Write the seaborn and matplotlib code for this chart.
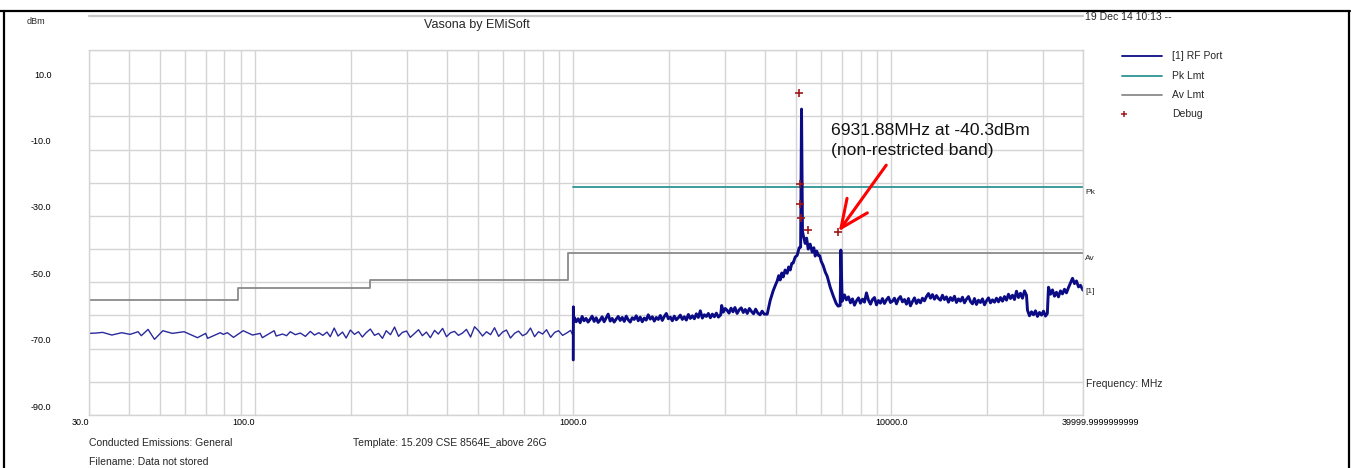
import matplotlib
matplotlib.use("Agg")
import matplotlib.pyplot as plt
import matplotlib.transforms as mtransforms
from matplotlib.lines import Line2D
from matplotlib.ticker import FixedLocator
import pandas as pd
import seaborn as sns

# ---------------- values (MHz / dBm) ----------------
# [1] RF Port below 1 GHz (sparse sweep, thin line)
low_freq = [30, 31.6, 33.1, 35.4, 38.0, 40.4, 42.8, 43.8, 46.0, 48.2,
            51.2, 54.8, 59.7, 65.8, 69.8, 70.8, 77.6, 79.3, 81.7, 85.4,
            91.6, 98.0, 103.6, 105.2, 114.6, 116.3, 121.8, 125.4, 128.8, 133.6,
            138.5, 143.7, 148.9, 153.5, 158.4, 163, 168, 172, 177, 182,
            188, 193, 199, 205, 211, 217, 223, 230, 237, 244,
            251, 258, 266, 274, 282, 290, 299, 307, 316, 326,
            335, 345, 355, 366, 376, 388, 399, 411, 423, 435,
            448, 461, 475, 489, 503, 518, 533, 549, 565, 582,
            599, 616, 634, 653, 672, 692, 712, 733, 755, 777,
            800, 823, 848, 873, 898, 925, 952, 980, 995]
low_level = [-65.4, -65.3, -65.1, -65.9, -65.2, -65.7, -64.9, -66.1, -64.2, -67.2,
             -64.6, -65.4, -64.9, -66.7, -65.4, -66.9, -65.2, -65.7, -65.2, -66.6,
             -64.6, -65.9, -65.4, -66.7, -64.6, -66.2, -65.6, -66.1, -64.9, -65.8,
             -65.3, -66.3, -64.8, -65.9, -65.2, -66.0, -65.0, -66.4, -63.8, -66.2,
             -65.0, -66.8, -64.4, -65.7, -64.9, -66.5, -65.2, -64.1, -66.0, -65.4,
             -66.9, -64.6, -65.8, -63.5, -66.3, -65.1, -64.7, -66.6, -65.5, -64.3,
             -66.1, -65.0, -66.7, -64.5, -65.6, -63.9, -66.4, -65.2, -64.8, -66.0,
             -65.3, -64.2, -66.5, -63.4, -64.6, -66.2, -64.9, -65.8, -63.7, -66.3,
             -65.0, -64.4, -66.8, -65.4, -64.7, -66.1, -65.5, -63.8, -66.4, -64.9,
             -65.6, -64.3, -66.6, -65.1, -64.6, -66.0, -65.3, -64.5, -65.9]

# step at 1 GHz
step_freq = [999, 1000, 1001]
step_level = [-73.4, -57.4, -61.5]

# 1 GHz - 2.9 GHz
band1_freq = [1005, 1020, 1035, 1050, 1065, 1080, 1096, 1112, 1128, 1145,
              1162, 1179, 1196, 1213, 1231, 1249, 1267, 1286, 1305, 1324,
              1343, 1363, 1383, 1403, 1424, 1445, 1466, 1487, 1509, 1531,
              1553, 1576, 1599, 1622, 1646, 1670, 1694, 1719, 1744, 1770,
              1796, 1822, 1849, 1876, 1903, 1931, 1959, 1988, 2017, 2046,
              2076, 2106, 2137, 2168, 2200, 2232, 2265, 2298, 2331, 2365,
              2400, 2435, 2470, 2506, 2543, 2580, 2618, 2656, 2695, 2734,
              2774, 2815, 2856, 2905]
band1_level = [-60.5, -61.9, -61.0, -62.2, -60.3, -61.6, -60.9, -62.0, -61.2, -60.2,
               -61.8, -60.7, -62.1, -61.4, -60.4, -61.9, -60.8, -59.6, -61.7, -60.9,
               -62.0, -61.1, -60.3, -61.5, -60.6, -61.8, -60.2, -61.3, -62.0, -60.7,
               -61.2, -60.1, -61.6, -60.5, -61.9, -60.8, -61.4, -59.8, -61.1, -60.4,
               -61.7, -60.6, -61.2, -60.0, -61.5, -60.3, -59.4, -61.0, -60.5, -61.6,
               -60.2, -61.3, -60.7, -59.9, -61.2, -60.4, -61.4, -59.7, -60.9, -60.1,
               -61.0, -59.5, -60.6, -58.6, -60.8, -59.8, -60.3, -59.4, -60.7, -59.6,
               -60.4, -59.3, -60.5, -59.8]

# 2.9 GHz - 4 GHz
band2_freq = [2925, 2960, 3000, 3040, 3085, 3130, 3175, 3220, 3270, 3320, 3370,
              3420, 3470, 3520, 3575, 3630, 3685, 3740, 3800, 3860, 3920, 3980]
band2_level = [-57.0, -59.0, -57.9, -58.4, -59.3, -57.8, -58.9, -57.6, -59.4, -58.3, -57.7,
               -59.1, -58.2, -59.4, -57.9, -58.8, -59.5, -58.1, -59.3, -59.8, -58.7, -59.6]

# 4 GHz - 7 GHz (carrier and 6931.88 MHz spur)
band3_freq = [4067, 4155, 4245, 4310, 4372, 4420, 4467, 4520, 4566, 4630,
              4700, 4750, 4803, 4860, 4908, 4980, 5052, 5126, 5180, 5214,
              5250, 5278, 5354, 5410, 5472, 5550, 5633, 5700, 5757, 5820,
              5884, 5950, 6013, 6101, 6190, 6280, 6417, 6559, 6702, 6798,
              6897, 6932, 6998]
band3_level = [-59.6, -55.5, -52.6, -51.0, -49.6, -48.0, -49.3, -47.2, -48.4, -46.3,
               -47.3, -45.4, -46.3, -44.3, -44.2, -42.4, -41.9, -39.6, -39.4, 2.2,
               -34.6, -35.8, -38.3, -36.7, -40.0, -38.5, -40.9, -39.6, -42.1, -40.6,
               -41.9, -42.0, -43.7, -45.0, -46.9, -48.2, -51.5, -54.1, -56.4, -57.2,
               -57.0, -40.3, -55.7]

# 7 GHz - 40 GHz
band4_freq = [7114, 7218, 7323, 7430, 7539, 7649, 7760, 7873, 7988, 8105,
              8223, 8343, 8465, 8589, 8714, 8841, 8970, 9101, 9232, 9367,
              9503, 9642, 9783, 9926, 10070, 10217, 10366, 10517, 10670, 10826,
              10984, 11144, 11307, 11472, 11640, 11810, 11982, 12157, 12333, 12514,
              12696, 12881, 13069, 13260, 13453, 13649, 13849, 14051, 14254, 14462,
              14673, 14887, 15104, 15325, 15548, 15775, 16005, 16239, 16476, 16716,
              16960, 17208, 17459, 17714, 17972, 18234, 18500, 18770, 19043, 19321,
              19603, 19889, 20179, 20474, 20772, 21075, 21383, 21695, 22010, 22331,
              22657, 22988, 23323, 23663, 24009, 24359, 24714, 25075, 25439, 25811,
              26187, 26570, 26760, 27150, 27550, 27950, 28360, 28770, 29190, 29620,
              30050, 30490, 30900, 31157, 31610, 32070, 32540, 33010, 33490, 33980,
              34480, 34980, 35490, 36010, 36540, 37070, 37610, 38160, 38720, 39280,
              40000]
band4_level = [-53.8, -55.3, -54.4, -56.2, -55.0, -56.9, -55.6, -54.7, -56.3, -55.1,
               -56.0, -53.2, -55.4, -56.6, -55.2, -54.6, -56.8, -55.5, -56.3, -54.9,
               -56.4, -55.3, -54.5, -56.1, -55.7, -54.8, -56.5, -55.0, -54.3, -55.9,
               -55.2, -56.6, -54.9, -57.1, -55.8, -54.7, -56.4, -55.3, -56.2, -54.8,
               -55.6, -54.3, -53.4, -54.8, -53.7, -55.1, -54.0, -54.9, -55.4, -53.9,
               -55.2, -54.4, -56.0, -54.6, -55.5, -54.2, -56.1, -55.0, -55.7, -54.5,
               -56.2, -55.1, -54.3, -55.8, -56.5, -54.9, -56.7, -55.4, -56.1, -55.0,
               -56.8, -55.6, -54.7, -56.2, -55.3, -56.0, -54.8, -55.9, -54.6, -55.7,
               -54.3, -55.4, -53.6, -54.9, -53.9, -55.2, -52.7, -54.6, -53.3, -54.8,
               -52.6, -53.9, -58.4, -60.1, -58.9, -59.8, -58.6, -60.3, -59.1, -59.9,
               -58.7, -60.2, -59.4, -51.5, -53.6, -52.3, -54.2, -53.0, -54.4, -52.6,
               -53.5, -52.1, -53.2, -51.6, -50.2, -48.8, -50.4, -49.6, -51.4, -50.9,
               -52.4]

# limit lines
pk_freq = [1000, 40000]
pk_level = [-21.2, -21.2]
av_freq = [30, 88, 230, 960, 40000]
av_level = [-55.2, -51.7, -49.2, -41.2, -41.2]

# debug markers
debug_freq = [5115, 5150, 5150, 5190, 5472, 6813]
debug_level = [7.1, -20.4, -26.5, -30.5, -34.2, -34.9]

# annotation
note_text = "6931.88MHz at -40.3dBm\n(non-restricted band)"
note_pos = (6462, -7.2)
arrow_tail = (9627, -14.7)
arrow_head = (6830, -34.6)

x_ticks = [30, 100, 1000, 10000, 40000]
x_labels = ["30.0", "100.0", "1000.0", "10000.0", "39999.9999999999"]
x_grid = [40, 50, 60, 70, 80, 90, 200, 300, 400, 500, 600, 700, 800, 900,
          2000, 3000, 4000, 5000, 6000, 7000, 8000, 9000, 20000, 30000]
y_labels = {10: "10.0", -10: "-10.0", -30: "-30.0", -50: "-50.0", -70: "-70.0", -90: "-90.0"}

# ---------------- drawing ----------------
W, H = 1354, 468
sns.set_theme(style="white")
plt.rcParams["font.family"] = ["Liberation Sans", "DejaVu Sans"]

fig = plt.figure(figsize=(W / 100, H / 100), dpi=100)
ax = fig.add_axes([89 / W, 1 - 415 / H, 994 / W, 365 / H])
ax.set_xscale("log")

navy = "#0b0b85"
teal = "#2e9494"
grey = "#8a8a8a"
red_dbg = "#a01818"

low = pd.DataFrame({"freq": low_freq, "level": low_level})
high = pd.DataFrame({"freq": step_freq + band1_freq + band2_freq + band3_freq + band4_freq,
                     "level": step_level + band1_level + band2_level + band3_level + band4_level})
pk = pd.DataFrame({"freq": pk_freq, "level": pk_level})
av = pd.DataFrame({"freq": av_freq, "level": av_level})

sns.lineplot(data=av, x="freq", y="level", sort=False, estimator=None, color=grey,
             lw=1.3, drawstyle="steps-post", ax=ax)
sns.lineplot(data=pk, x="freq", y="level", sort=False, estimator=None, color=teal, lw=1.3, ax=ax)
sns.lineplot(data=low, x="freq", y="level", sort=False, estimator=None, color="#2a2a9c", lw=1.0, ax=ax)
sns.lineplot(data=high, x="freq", y="level", sort=False, estimator=None, color=navy, lw=2.1, ax=ax)
ax.plot(debug_freq, debug_level, ls="none", marker="+", ms=6, mew=1.2, color=red_dbg)

ax.text(note_pos[0], note_pos[1], note_text, fontsize=12.6, ha="left", va="center",
        color="#111111", linespacing=1.4)
ax.annotate("", xy=arrow_head, xytext=arrow_tail,
            arrowprops=dict(arrowstyle="->,head_length=1.0,head_width=0.45",
                            color="red", lw=2.2, mutation_scale=20, shrinkA=0, shrinkB=0))

ax.set_xlim(30, 40000)
ax.set_ylim(-90, 20)
ax.set_xticks(x_ticks)
ax.set_xticklabels(x_labels)
ax.xaxis.set_minor_locator(FixedLocator(x_grid))
ax.set_yticks(list(range(-90, 21, 10)))
ax.set_yticklabels([y_labels.get(v, "") for v in range(-90, 21, 10)])
ax.grid(True, which="both", color="#d4d4d4", lw=1.0)
ax.tick_params(which="both", length=0, labelsize=6.5, colors="black")
ax.tick_params(axis="x", pad=2)
ax.tick_params(axis="y", pad=27)
ax.set_xlabel("")
ax.set_ylabel("")
for s in ax.spines.values():
    s.set_color("#d4d4d4")
    s.set_linewidth(1.0)

# y labels sit a little above their grid lines
up = mtransforms.ScaledTranslation(0, 9 / 100, fig.dpi_scale_trans)
for lbl in ax.get_yticklabels():
    lbl.set_transform(lbl.get_transform() + up)
xl = ax.get_xticklabels()
xl[0].set_ha("right")
xl[1].set_ha("right")
xl[-1].set_ha("left")
xl[-1].set_transform(xl[-1].get_transform() + mtransforms.ScaledTranslation(-21 / 100, 0, fig.dpi_scale_trans))

# right-hand trace tags
tag = ax.get_yaxis_transform()
ax.text(1.002, -22.8, "Pk", transform=tag, fontsize=6, va="center")
ax.text(1.002, -42.8, "Av", transform=tag, fontsize=6, va="center")
ax.text(1.002, -52.8, "[1]", transform=tag, fontsize=6, va="center")
ax.text(1.003, -80.7, "Frequency: MHz", transform=tag, fontsize=7.5, va="center")


def px(x, y):
    return x / W, 1 - y / H


# frame and header
fig.add_artist(Line2D([0, 1350 / W], [1 - 11 / H] * 2, color="black", lw=1.6))
fig.add_artist(Line2D([3.5 / W] * 2, [0, 1 - 11 / H], color="black", lw=1.6))
fig.add_artist(Line2D([1349 / W] * 2, [0, 1 - 11 / H], color="black", lw=1.6))
fig.add_artist(Line2D([89 / W, 1083 / W], [1 - 15.5 / H] * 2, color="#c8c8c8", lw=1.6))
fig.text(*px(477, 25), "Vasona by EMiSoft", fontsize=9, ha="center", va="center")
fig.text(*px(27, 21), "dBm", fontsize=6.5, ha="left", va="center")
fig.text(*px(1085, 16.5), "19 Dec 14 10:13 --", fontsize=7.5, ha="left", va="center")

# legend
legend_rows = [("[1] RF Port", navy, "-"), ("Pk Lmt", teal, "-"), ("Av Lmt", grey, "-"), ("Debug", red_dbg, "+")]
for i, (name, col, kind) in enumerate(legend_rows):
    y = [56, 76, 95, 114][i]
    if kind == "-":
        fig.add_artist(Line2D([1122 / W, 1162 / W], [1 - y / H] * 2, color=col, lw=1.3))
    else:
        fig.add_artist(Line2D([1124 / W], [1 - y / H], ls="none", marker="+", ms=5, mew=1.1, color=col))
    fig.text(*px(1172, y), name, fontsize=7.5, ha="left", va="center")

# footer
fig.text(*px(89, 443), "Conducted Emissions: General", fontsize=7.5, ha="left", va="center")
fig.text(*px(89, 462), "Filename: Data not stored", fontsize=7.5, ha="left", va="center")
fig.text(*px(353, 443), "Template: 15.209 CSE 8564E_above 26G", fontsize=7.5, ha="left", va="center")

fig.savefig("out.png", dpi=100, facecolor="white")
